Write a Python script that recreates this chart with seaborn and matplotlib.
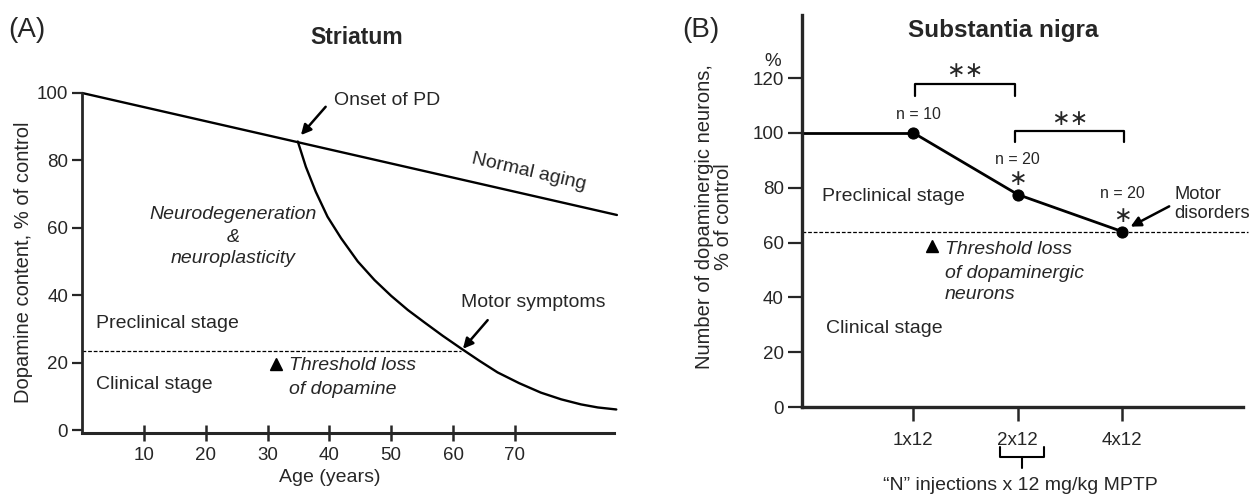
import numpy as np
import pandas as pd
import matplotlib
matplotlib.use("Agg")
import matplotlib.pyplot as plt
import seaborn as sns

# ---------------- Panel A data (Striatum) ----------------
normal_age = [0, 86.5]
normal_dopamine = [100, 63.8]
pd_age = [34.9, 36.2, 37.8, 39.7, 41.9, 44.6, 47.3, 50.0, 52.7, 55.4, 58.3, 61.3,
          64.3, 67.2, 70.7, 74.2, 77.5, 80.7, 83.4, 86.4]
pd_dopamine = [85.6, 78.1, 70.7, 63.3, 56.9, 50.0, 44.5, 39.8, 35.6, 31.9, 28.0, 24.2,
               20.5, 17.1, 13.9, 11.1, 9.1, 7.6, 6.7, 6.1]
threshold_dopamine = 23.5
motor_age = 61.3
age_ticks = [10, 20, 30, 40, 50, 60, 70]
dopamine_ticks = [0, 20, 40, 60, 80, 100]

# ---------------- Panel B data (Substantia nigra) ----------------
doses = ["1x12", "2x12", "4x12"]
neurons = [100, 77.5, 64]
group_n = ["n = 10", "n = 20", "n = 20"]
control_neurons = 100
threshold_neurons = 64
neuron_ticks = [0, 20, 40, 60, 80, 100, 120]

sns.set_style("ticks")
plt.rcParams["font.family"] = ["Liberation Sans", "DejaVu Sans"]
plt.rcParams["axes.linewidth"] = 2.0

fig = plt.figure(figsize=(12.55, 4.94), dpi=100)
W, H = 1255, 494

def fx(px):
    return px / W

def fy(py):
    return 1 - py / H

TXT = 14
TICK = 13.5

# ================= Panel A =================
axA = fig.add_axes([fx(82), fy(433.4), 538 / W, 343.8 / H])
axA.set_xlim(0, 87)
axA.set_ylim(-1, 101)

df_normal = pd.DataFrame({"age": normal_age, "dopamine": normal_dopamine})
df_pd = pd.DataFrame({"age": pd_age, "dopamine": pd_dopamine})
sns.lineplot(data=df_normal, x="age", y="dopamine", ax=axA, color="black",
             lw=1.7, estimator=None, sort=False)
sns.lineplot(data=df_pd, x="age", y="dopamine", ax=axA, color="black",
             lw=1.7, estimator=None, sort=False)
axA.plot([0, motor_age], [threshold_dopamine, threshold_dopamine], color="black",
         lw=0.9, ls=(0, (3, 1.5)))

sns.despine(ax=axA)
axA.spines["left"].set_bounds(-1, 100)
axA.spines["bottom"].set_bounds(0, 86)
axA.spines["left"].set_linewidth(2.0)
axA.spines["bottom"].set_linewidth(2.2)
axA.set_xticks(age_ticks)
axA.set_yticks(dopamine_ticks)
axA.tick_params(axis="x", direction="inout", length=12, width=1.8, labelsize=TICK, pad=4)
axA.tick_params(axis="y", direction="out", length=7, width=1.6, labelsize=TICK, pad=3)
axA.set_xlabel("")
axA.set_ylabel("")

axA.text(40.8, 97.9, "Onset of PD", fontsize=TXT, ha="left", va="center")
axA.annotate("", xy=(35.4, 87.5), xytext=(39.4, 95.9),
             arrowprops=dict(arrowstyle="-|>", color="black", lw=1.8, mutation_scale=15,
                             shrinkA=0, shrinkB=0))
axA.text(72.3, 76.6, "Normal aging", fontsize=TXT, ha="center", va="center", rotation=-13,
         rotation_mode="anchor")
axA.text(24.4, 63.8, "Neurodegeneration", fontsize=TXT, ha="center", va="center", style="italic")
axA.text(24.4, 57.2, "&", fontsize=TXT, ha="center", va="center", style="italic")
axA.text(24.4, 51.0, "neuroplasticity", fontsize=TXT, ha="center", va="center", style="italic")
axA.text(2.2, 31.5, "Preclinical stage", fontsize=TXT, ha="left", va="center")
axA.text(2.2, 13.4, "Clinical stage", fontsize=TXT, ha="left", va="center")
axA.plot([31.4], [19.6], marker="^", color="black", ms=8, ls="none")
axA.text(33.5, 19.0, "Threshold loss", fontsize=TXT, ha="left", va="center", style="italic")
axA.text(33.5, 12.1, "of dopamine", fontsize=TXT, ha="left", va="center", style="italic")
axA.text(72.9, 37.8, "Motor symptoms", fontsize=TXT, ha="center", va="center")
axA.annotate("", xy=(61.6, 24.1), xytext=(65.6, 32.6),
             arrowprops=dict(arrowstyle="-|>", color="black", lw=1.8, mutation_scale=15,
                             shrinkA=0, shrinkB=0))

fig.text(fx(330), fy(477), "Age (years)", fontsize=TXT, ha="center", va="center")
fig.text(fx(24), fy(262), "Dopamine content, % of control", fontsize=14.5, ha="center",
         va="center", rotation=90)
fig.text(fx(357), fy(37), "Striatum", fontsize=16.5, fontweight="bold", ha="center", va="center")
fig.text(fx(27), fy(30), "(A)", fontsize=20, ha="center", va="center")

# ================= Panel B =================
xl_left, xl_right = -0.067, 4.2
axB = fig.add_axes([fx(802), fy(407), 445.5 / W, 392 / H])
axB.set_xlim(xl_left, xl_right)
axB.set_ylim(0, 143)

pos = np.arange(1, len(doses) + 1)
df_b = pd.DataFrame({"pos": pos, "neurons": neurons})
axB.plot([xl_left, pos[0]], [control_neurons, neurons[0]], color="black", lw=2.0,
         solid_capstyle="butt")
sns.lineplot(data=df_b, x="pos", y="neurons", ax=axB, color="black", lw=2.0,
             marker="o", markersize=8, markeredgecolor="black", estimator=None, sort=False)
axB.plot([xl_left, xl_right], [threshold_neurons, threshold_neurons], color="black",
         lw=0.9, ls=(0, (3, 1.5)), clip_on=False, zorder=1)

sns.despine(ax=axB)
axB.spines["left"].set_linewidth(2.4)
axB.spines["bottom"].set_linewidth(2.4)
axB.spines["bottom"].set_bounds(xl_left, 4.157)
axB.set_xticks(pos)
axB.set_xticklabels(doses)
axB.set_yticks(neuron_ticks)
axB.tick_params(axis="x", direction="out", length=10, width=1.8, labelsize=TICK, pad=8)
axB.tick_params(axis="y", direction="out", length=10, width=1.6, labelsize=TICK, pad=3)
axB.set_xlabel("")
axB.set_ylabel("")

# significance brackets
for (x0, x1, top, leg, ty) in [(1.02, 1.97, 117.7, 113.5, 122.5), (1.97, 3.02, 100.8, 96.8, 105.0)]:
    axB.plot([x0, x0, x1, x1], [leg, top, top, leg], color="black", lw=1.6)
    axB.text((x0 + x1) / 2, ty, "\u2217\u2217", fontsize=16, ha="center", va="center",
             family="DejaVu Sans")

n_y = [106.7, 90.2, 78.0]
for p, lab, yy in zip(pos, group_n, n_y):
    axB.text(p + (0.05 if p == 1 else 0), yy, lab, fontsize=11.5, ha="center", va="center")
for p, yy in zip(pos[1:], [83.0, 69.5]):
    axB.text(p, yy, "\u2217", fontsize=16, ha="center", va="center", family="DejaVu Sans")

axB.text(3.50, 77.5, "Motor", fontsize=13.2, ha="left", va="center", clip_on=False)
axB.text(3.50, 70.6, "disorders", fontsize=13.2, ha="left", va="center", clip_on=False)
axB.annotate("", xy=(3.08, 65.8), xytext=(3.45, 73.2),
             arrowprops=dict(arrowstyle="-|>", color="black", lw=1.8, mutation_scale=15,
                             shrinkA=0, shrinkB=0))
axB.text(0.12, 76.8, "Preclinical stage", fontsize=TXT, ha="left", va="center")
axB.text(0.16, 28.7, "Clinical stage", fontsize=TXT, ha="left", va="center")
axB.plot([1.18], [58.8], marker="^", color="black", ms=8, ls="none")
axB.text(1.30, 57.6, "Threshold loss", fontsize=TXT, ha="left", va="center", style="italic")
axB.text(1.30, 48.8, "of dopaminergic", fontsize=TXT, ha="left", va="center", style="italic")
axB.text(1.30, 40.9, "neurons", fontsize=TXT, ha="left", va="center", style="italic")
axB.text(-0.345, 125.9, "%", fontsize=TICK, ha="center", va="center", clip_on=False)

# curly brace under the 2x12 label
bx0, bx1, bxc = 1.83, 2.25, 2.04
axB.plot([bx0, bx0, bx1, bx1], [-14.6, -18.3, -18.3, -14.6], color="black", lw=1.5, clip_on=False)
axB.plot([bxc, bxc], [-18.3, -22.3], color="black", lw=1.5, clip_on=False)

fig.text(fx(1020), fy(485), "\u201cN\u201d injections x 12 mg/kg MPTP", fontsize=TXT,
         ha="center", va="center")
fig.text(fx(714), fy(217), "Number of dopaminergic neurons,\n% of control", fontsize=14.5,
         ha="center", va="center", rotation=90, linespacing=1.0)
fig.text(fx(1003), fy(30), "Substantia nigra", fontsize=17.5, fontweight="bold",
         ha="center", va="center")
fig.text(fx(701), fy(30), "(B)", fontsize=20, ha="center", va="center")

fig.savefig("out.png", dpi=100)
